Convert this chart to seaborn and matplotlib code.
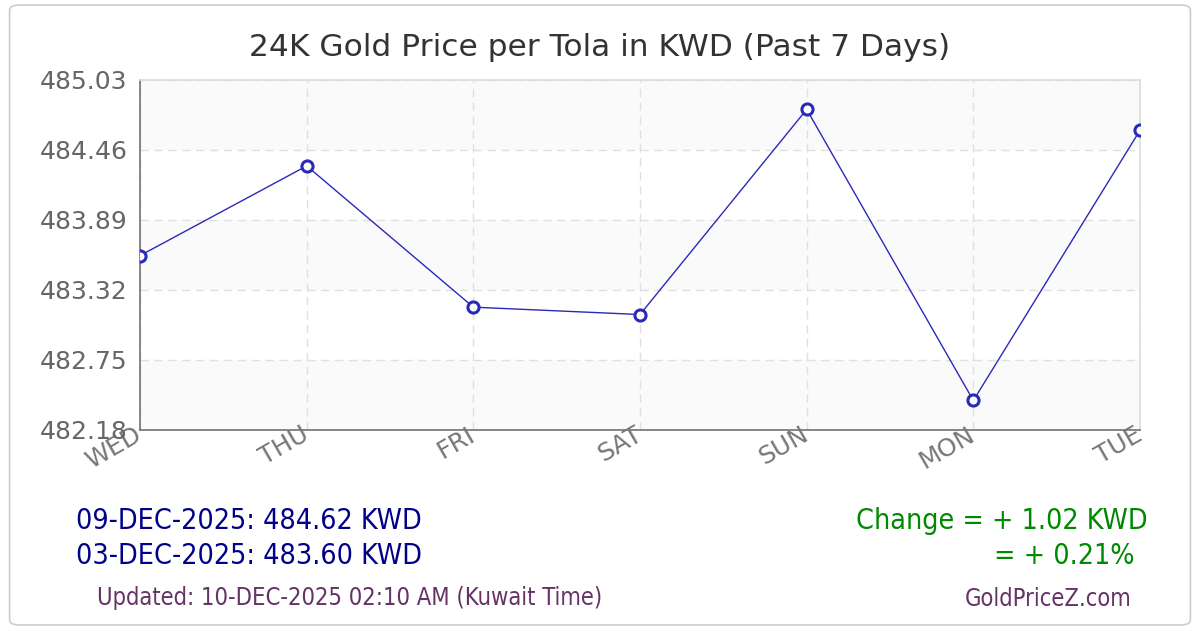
import pandas as pd
import seaborn as sns
import numpy as np
import matplotlib.pyplot as plt
from matplotlib.patches import FancyBboxPatch

days = ["WED", "THU", "FRI", "SAT", "SUN", "MON", "TUE"]
prices = [483.60, 484.33, 483.18, 483.12, 484.79, 482.42, 484.62]
yticks = [482.18, 482.75, 483.32, 483.89, 484.46, 485.03]

sns.set_theme(style="white")
plt.rcParams['font.family'] = ['DejaVu Sans']

df = pd.DataFrame({"day": days, "price": prices})

fig = plt.figure(figsize=(12, 6.3), dpi=100)
# rounded outer frame
fig.patches.append(FancyBboxPatch((0.008, 0.008), 0.984, 0.984, boxstyle="round,pad=0,rounding_size=0.008",
                                  transform=fig.transFigure, fill=False, edgecolor="#cccccc", linewidth=1.2))
ax = fig.add_axes([0.1167, 0.3175, 0.8333, 0.5556])

# alternating bands
for i in range(len(yticks) - 1):
    if i % 2 == 0:
        ax.axhspan(yticks[i], yticks[i + 1], color="#fafafa", zorder=0, lw=0)

sns.lineplot(data=df, x="day", y="price", ax=ax, color="#2a2ab8", linewidth=1,
             marker="o", markersize=8, markerfacecolor="white", markeredgecolor="#2a2ab8",
             markeredgewidth=2.2, zorder=3)

ax.set_xlim(0, len(days) - 1)
ax.set_ylim(yticks[0], yticks[-1])
ax.set_yticks(yticks)
ax.set_yticklabels([f"{v:.2f}" for v in yticks], fontsize=18, color="#666666")
ax.set_xticks(range(len(days)))
ax.set_xticklabels(days, fontsize=18, color="#777777", rotation=30, ha="right", va="center",
                   rotation_mode="anchor")
ax.tick_params(axis="y", length=5, color="#888888", pad=4)
ax.tick_params(axis="x", length=4, color="#cccccc", pad=-2)
ax.grid(True, color="#e0e0e0", linestyle=(0, (6, 4)), linewidth=1)
ax.set_axisbelow(True)
ax.set_xlabel("")
ax.set_ylabel("")
for s in ["top", "right"]:
    ax.spines[s].set_color("#dddddd")
for s in ["left", "bottom"]:
    ax.spines[s].set_color("#777777")

fig.text(0.5, 0.925, "24K Gold Price per Tola in KWD (Past 7 Days)", ha="center", va="center",
         fontsize=22.5, color="#333333")

cond = dict(fontstretch="condensed")
fig.text(0.063, 0.173, "09-DEC-2025: 484.62 KWD", fontsize=20.5, color="#000088", va="center", **cond)
fig.text(0.063, 0.118, "03-DEC-2025: 483.60 KWD", fontsize=20.5, color="#000088", va="center", **cond)
fig.text(0.956, 0.173, "Change = + 1.02 KWD", fontsize=20.5, color="#008800", va="center", ha="right", **cond)
fig.text(0.945, 0.118, "= + 0.21%", fontsize=20.5, color="#008800", va="center", ha="right", **cond)
fig.text(0.081, 0.05, "Updated: 10-DEC-2025 02:10 AM (Kuwait Time)", fontsize=17, color="#663366", va="center", **cond)
fig.text(0.943, 0.05, "GoldPriceZ.com", fontsize=17, color="#663366", va="center", ha="right", **cond)

plt.savefig("out.png", dpi=100)
